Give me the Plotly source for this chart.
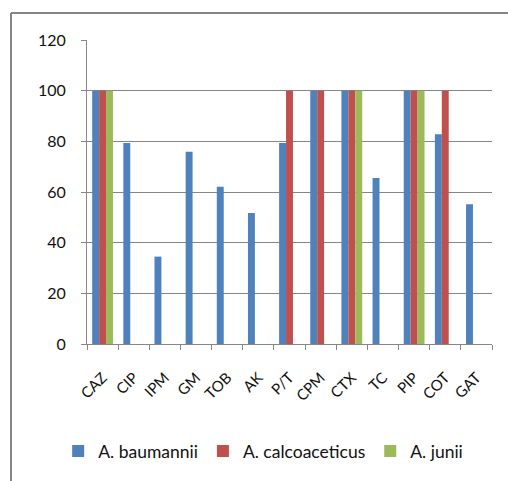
import plotly.graph_objects as go

categories = ["CAZ", "CIP", "IPM", "GM", "TOB", "AK", "P/T", "CPM", "CTX", "TC", "PIP", "COT", "GAT"]
baumannii = [100, 79.3, 34.5, 75.9, 62.1, 51.7, 79.3, 100, 100, 65.5, 100, 82.8, 55.2]
calcoaceticus = [100, 0, 0, 0, 0, 0, 100, 100, 100, 0, 100, 100, 0]
junii = [100, 0, 0, 0, 0, 0, 0, 0, 100, 0, 100, 0, 0]
series_names = ["A. baumannii", "A. calcoaceticus", "A. junii"]
colors = ["#4F81BD", "#C0504D", "#9BBB59"]
y_ticks = [0, 20, 40, 60, 80, 100, 120]

FONT = "Lato, 'Open Sans', sans-serif"

fig = go.Figure()
for name, vals, col in zip(series_names, [baumannii, calcoaceticus, junii], colors):
    fig.add_trace(go.Bar(x=categories, y=vals, name=name, marker=dict(color=col, line=dict(width=0))))

fig.update_layout(
    width=508, height=481,
    margin=dict(l=87, r=16, t=40, b=137, autoexpand=False),
    paper_bgcolor="white", plot_bgcolor="white",
    barmode="group", bargap=0.333, bargroupgap=0,
    font=dict(family=FONT, size=15, color="#111111"),
    showlegend=True,
    legend=dict(orientation="h", x=0.435, xanchor="center", y=-0.352, yanchor="middle",
                font=dict(size=17.5, color="#111111"), itemwidth=30, traceorder="normal"),
    xaxis=dict(type="category", tickangle=-45, showline=True, linecolor="#868686", linewidth=1,
               ticks="outside", tickson="boundaries", ticklen=5, tickcolor="#868686",
               showgrid=False, tickfont=dict(size=15), automargin=False, ticklabelstandoff=18),
    yaxis=dict(range=[0, 120], tickvals=y_ticks, showline=True, linecolor="#868686", linewidth=1,
               ticks="outside", ticklen=5, tickcolor="#868686", showgrid=True, gridcolor="#868686",
               gridwidth=1, zeroline=False, tickfont=dict(size=16), automargin=False,
               ticklabelstandoff=12),
    shapes=[
        dict(type="line", xref="paper", yref="paper", x0=(11 - 87) / 405, x1=(508 - 87) / 405 + 0.01,
             y0=(344 - 13) / 304, y1=(344 - 13) / 304, line=dict(color="#868686", width=2)),
        dict(type="line", xref="paper", yref="paper", x0=(11 - 87) / 405, x1=(11 - 87) / 405,
             y0=(344 - 13) / 304, y1=(344 - 490) / 304, line=dict(color="#868686", width=2)),
    ],
)

fig.write_html("out.html", config={"displayModeBar": False},
               post_script="document.body.style.margin='0';")
